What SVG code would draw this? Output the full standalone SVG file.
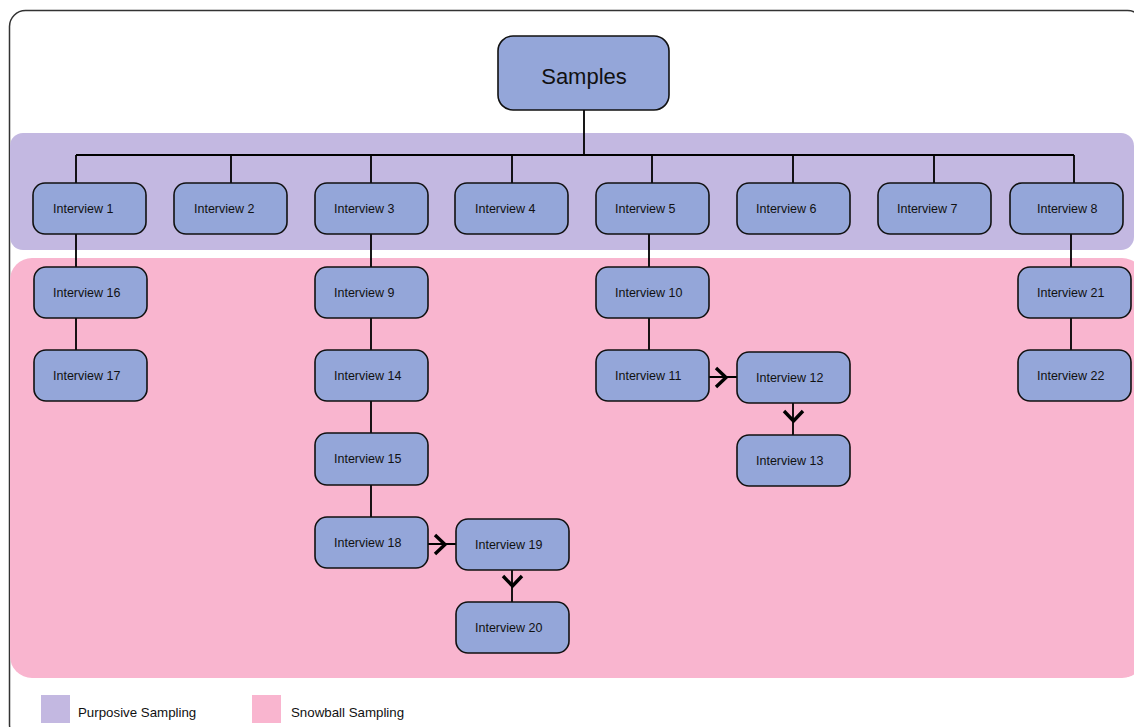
<svg xmlns="http://www.w3.org/2000/svg" width="1134" height="727" viewBox="0 0 1134 727">
<style>
.n{fill:#94a6d9;stroke:#111;stroke-width:1.6}
.t{font-family:"Liberation Sans",Arial,sans-serif;font-size:12.5px;fill:#111}
.c{stroke:#000;stroke-width:1.8;fill:none}
.ch{stroke:#000;stroke-width:3.4;fill:none;stroke-linejoin:miter}
.lg{font-family:"Liberation Sans",Arial,sans-serif;font-size:13.3px;fill:#111}
</style>
<rect x="0" y="0" width="1134" height="727" fill="#fff"/>
<rect x="9.5" y="10.5" width="1134" height="730" rx="16" fill="#fff" stroke="#333" stroke-width="1.5"/>
<g id="bands">
<rect x="10" y="133" width="1124" height="117" rx="13" fill="#c3b8e1"/>
<rect x="10" y="258" width="1134" height="420" rx="22" fill="#f9b5cf"/>
</g>
<g id="connectors">
<path class="c" d="M584 110V155M76 155H1074M76 155V183M231 155V183M371 155V183M512 155V183M652 155V183M793 155V183M934 155V183M1074 155V183"/>
<path class="c" d="M76 234V267M76 318V350"/>
<path class="c" d="M371 234V267M371 318V350M371 401V433M371 485V517"/>
<path class="c" d="M649 234V267M649 318V350"/>
<path class="c" d="M1071 234V267M1071 318V350"/>
<path class="c" d="M709 377H737M793 403V435"/>
<path class="c" d="M428 544H456M512 570V602"/>
<path class="ch" d="M716 368L726 377.5L716 387"/>
<path class="ch" d="M784 411L793.5 421L803 411"/>
<path class="ch" d="M435 535L445 544.5L435 554"/>
<path class="ch" d="M503 576L512.5 586L522 576"/>
</g>
<g id="samples"><rect class="n" x="498" y="36" width="171" height="74" rx="15"/><text x="584" y="84" text-anchor="middle" font-family="Liberation Sans,Arial,sans-serif" font-size="22" fill="#111">Samples</text></g>
<g id="i1"><rect class="n" x="33" y="183" width="113" height="51" rx="12"/><text class="t" x="53" y="213">Interview 1</text></g>
<g id="i2"><rect class="n" x="174" y="183" width="113" height="51" rx="12"/><text class="t" x="194" y="213">Interview 2</text></g>
<g id="i3"><rect class="n" x="315" y="183" width="113" height="51" rx="12"/><text class="t" x="334" y="213">Interview 3</text></g>
<g id="i4"><rect class="n" x="455" y="183" width="113" height="51" rx="12"/><text class="t" x="475" y="213">Interview 4</text></g>
<g id="i5"><rect class="n" x="596" y="183" width="113" height="51" rx="12"/><text class="t" x="615" y="213">Interview 5</text></g>
<g id="i6"><rect class="n" x="737" y="183" width="113" height="51" rx="12"/><text class="t" x="756" y="213">Interview 6</text></g>
<g id="i7"><rect class="n" x="878" y="183" width="113" height="51" rx="12"/><text class="t" x="897" y="213">Interview 7</text></g>
<g id="i8"><rect class="n" x="1010" y="183" width="113" height="51" rx="12"/><text class="t" x="1037" y="213">Interview 8</text></g>
<g id="i16"><rect class="n" x="34" y="267" width="113" height="51" rx="12"/><text class="t" x="53" y="297">Interview 16</text></g>
<g id="i17"><rect class="n" x="34" y="350" width="113" height="51" rx="12"/><text class="t" x="53" y="380">Interview 17</text></g>
<g id="i9"><rect class="n" x="315" y="267" width="113" height="51" rx="12"/><text class="t" x="334" y="297">Interview 9</text></g>
<g id="i14"><rect class="n" x="315" y="350" width="113" height="51" rx="12"/><text class="t" x="334" y="380">Interview 14</text></g>
<g id="i15"><rect class="n" x="315" y="433" width="113" height="52" rx="12"/><text class="t" x="334" y="463">Interview 15</text></g>
<g id="i18"><rect class="n" x="315" y="517" width="113" height="51" rx="12"/><text class="t" x="334" y="547">Interview 18</text></g>
<g id="i19"><rect class="n" x="456" y="519" width="113" height="51" rx="12"/><text class="t" x="475" y="549">Interview 19</text></g>
<g id="i20"><rect class="n" x="456" y="602" width="113" height="51" rx="12"/><text class="t" x="475" y="632">Interview 20</text></g>
<g id="i10"><rect class="n" x="596" y="267" width="113" height="51" rx="12"/><text class="t" x="615" y="297">Interview 10</text></g>
<g id="i11"><rect class="n" x="596" y="350" width="113" height="51" rx="12"/><text class="t" x="615" y="380">Interview 11</text></g>
<g id="i12"><rect class="n" x="737" y="352" width="113" height="51" rx="12"/><text class="t" x="756" y="382">Interview 12</text></g>
<g id="i13"><rect class="n" x="737" y="435" width="113" height="51" rx="12"/><text class="t" x="756" y="465">Interview 13</text></g>
<g id="i21"><rect class="n" x="1018" y="267" width="113" height="51" rx="12"/><text class="t" x="1037" y="297">Interview 21</text></g>
<g id="i22"><rect class="n" x="1018" y="350" width="113" height="51" rx="12"/><text class="t" x="1037" y="380">Interview 22</text></g>
<g id="legend">
<rect x="41" y="695" width="29" height="28" fill="#c3b8e1"/><text class="lg" x="78" y="717">Purposive Sampling</text>
<rect x="252" y="695" width="29" height="28" fill="#f9b5cf"/><text class="lg" x="291" y="717">Snowball Sampling</text>
</g>
</svg>
